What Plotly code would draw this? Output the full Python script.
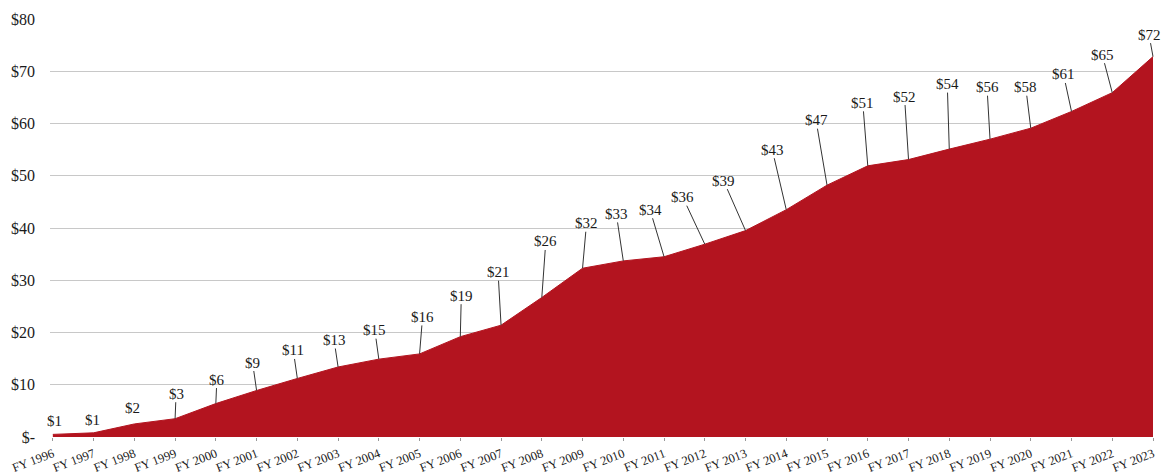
import plotly.graph_objects as go

years = ["FY 1996", "FY 1997", "FY 1998", "FY 1999", "FY 2000", "FY 2001", "FY 2002",
         "FY 2003", "FY 2004", "FY 2005", "FY 2006", "FY 2007", "FY 2008", "FY 2009",
         "FY 2010", "FY 2011", "FY 2012", "FY 2013", "FY 2014", "FY 2015", "FY 2016",
         "FY 2017", "FY 2018", "FY 2019", "FY 2020", "FY 2021", "FY 2022", "FY 2023"]
values = [0.5, 0.8, 2.5, 3.5, 6.4, 8.9, 11.2, 13.4, 14.9, 15.9, 19.2, 21.4, 26.7, 32.3,
          33.7, 34.5, 36.9, 39.5, 43.5, 48.2, 51.9, 53.1, 55.1, 57.0, 59.1, 62.3, 65.9, 72.8]
labels = ["$1", "$1", "$2", "$3", "$6", "$9", "$11", "$13", "$15", "$16", "$19", "$21",
          "$26", "$32", "$33", "$34", "$36", "$39", "$43", "$47", "$51", "$52", "$54",
          "$56", "$58", "$61", "$65", "$72"]
y_tickvals = [0, 10, 20, 30, 40, 50, 60, 70, 80]
y_ticktext = ["$-", "$10", "$20", "$30", "$40", "$50", "$60", "$70", "$80"]

# label offsets (pixels) from the point to the label centre
label_dx = [2, -1, -2, 1, 1, -4, -4, -4, -4, 3, 1, -3, 4, 4, -7, -14, -22, -22, -14, -11,
            -5, -4, -2, -3, -5, -8, -10, -4]
label_dy = [-13, -13, -16, -25, -24, -28, -28, -27, -29, -37, -41, -53, -56, -45, -47, -47,
            -47, -50, -60, -65, -63, -63, -65, -52, -41, -37, -38, -22]
show_line = [False, False, False] + [True] * 25

FONT = "Liberation Serif, Times New Roman, serif"
RED = "#B3141F"

x_idx = list(range(len(years)))

fig = go.Figure()
fig.add_trace(go.Scatter(
    x=x_idx, y=values, mode="lines", fill="tozeroy",
    line=dict(color=RED, width=1), fillcolor=RED, hoverinfo="skip",
))

for i, (v, lab) in enumerate(zip(values, labels)):
    fig.add_annotation(
        x=i, y=v, text=lab, showarrow=True, arrowhead=0, arrowwidth=1,
        arrowcolor="#333333" if show_line[i] else "rgba(0,0,0,0)",
        ax=label_dx[i], ay=label_dy[i], standoff=0, borderpad=0,
        font=dict(family=FONT, size=15, color="#1a1a1a"),
    )

fig.update_layout(
    width=1161, height=476,
    margin=dict(l=50, r=8, t=19, b=39),
    paper_bgcolor="white", plot_bgcolor="white",
    showlegend=False,
    font=dict(family=FONT, color="#1a1a1a"),
)
fig.update_xaxes(
    range=[-0.07, 27.0], tickmode="array", tickvals=x_idx, ticktext=years,
    tickangle=-21, tickfont=dict(family=FONT, size=12.5, color="#1a1a1a"),
    showgrid=False, zeroline=False, showline=False, ticklabelstandoff=1,
    ticks="outside", ticklen=3, tickcolor="#999999", tickwidth=1, automargin=False,
)
fig.update_yaxes(
    range=[0, 80], tickmode="array", tickvals=y_tickvals, ticktext=y_ticktext,
    tickfont=dict(family=FONT, size=16, color="#1a1a1a"),
    showgrid=True, gridcolor="#c8c8c8", gridwidth=1, zeroline=False, showline=False,
    ticks="", ticklabelstandoff=14, automargin=False,
)

fig.write_html("out.html", config={"displayModeBar": False},
               post_script="document.body.style.margin='0';document.body.style.overflow='hidden';")
